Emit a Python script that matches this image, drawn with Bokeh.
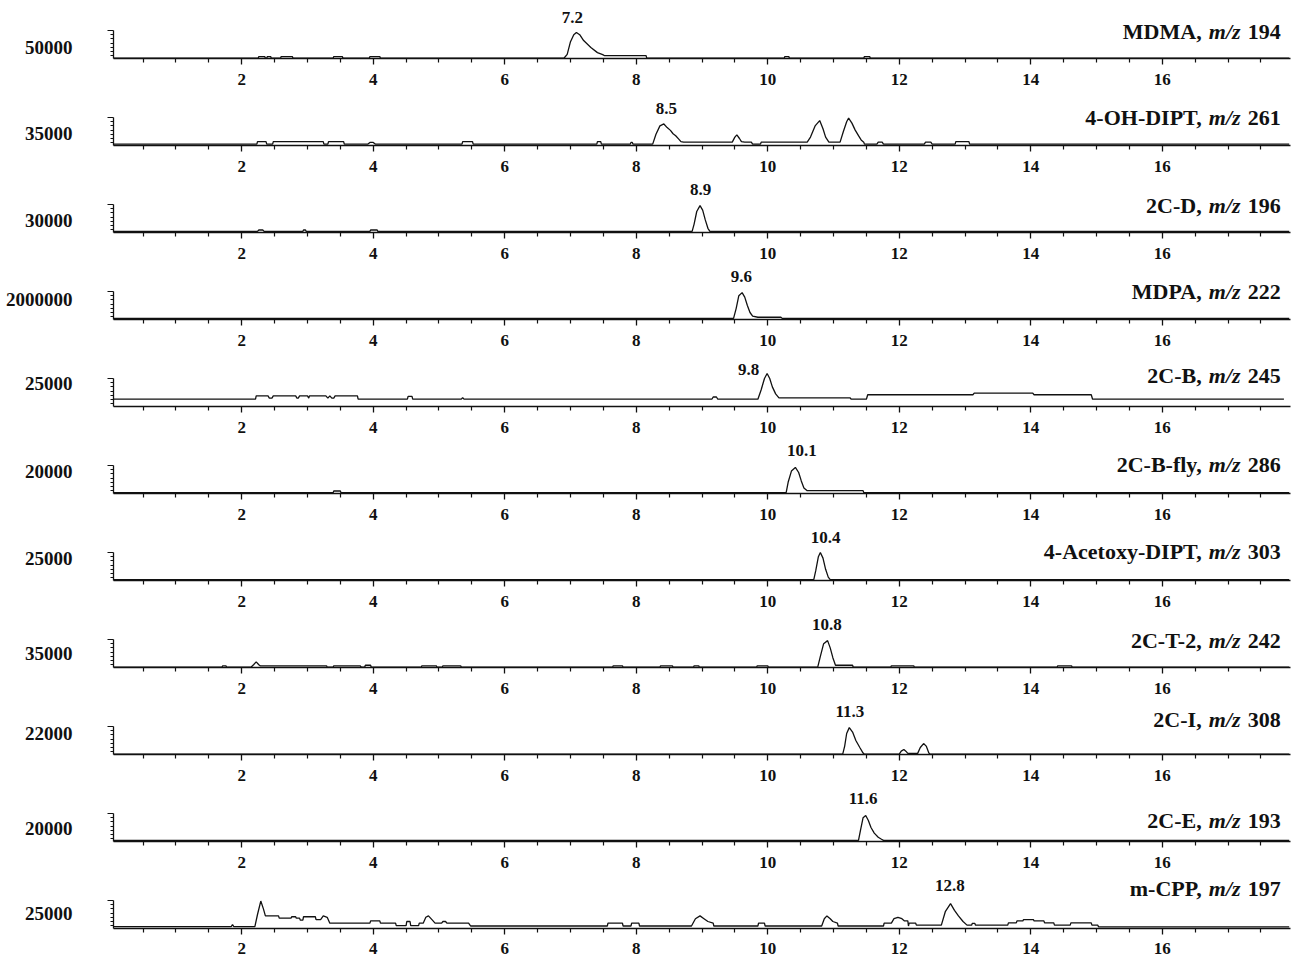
from bokeh.plotting import figure
from bokeh.models import Range1d, LinearAxis, FixedTicker
from bokeh.layouts import column
from bokeh.core.properties import value
from bokeh.embed import file_html
from bokeh.resources import INLINE

# ---------------- data ----------------
compounds = ["MDMA,", "4-OH-DIPT,", "2C-D,", "MDPA,", "2C-B,", "2C-B-fly,",
             "4-Acetoxy-DIPT,", "2C-T-2,", "2C-I,", "2C-E,", "m-CPP,"]
mz_values = ["194", "261", "196", "222", "245", "286", "303", "242", "308", "193", "197"]
scale_labels = ["50000", "35000", "30000", "2000000", "25000", "20000",
                "25000", "35000", "22000", "20000", "25000"]
peak_labels = ["7.2", "8.5", "8.9", "9.6", "9.8", "10.1", "10.4", "10.8", "11.3", "11.6", "12.8"]
peak_label_x = [7.03, 8.46, 8.98, 9.60, 9.71, 10.52, 10.88, 10.90, 11.25, 11.45, 12.77]

x_major = [2, 4, 6, 8, 10, 12, 14, 16]
x_minor = [0.5, 1, 1.5, 2.5, 3, 3.5, 4.5, 5, 5.5, 6.5, 7, 7.5, 8.5, 9, 9.5, 10.5, 11, 11.5,
           12.5, 13, 13.5, 14.5, 15, 15.5, 16.5, 17, 17.5]

# retention time (min) / relative intensity (100 = top of each small y axis)
mdma_t = [0.05, 2.25, 2.26, 2.35, 2.36, 2.38, 2.39, 2.44, 2.45, 2.59, 2.60, 2.77, 2.78, 3.39, 3.40,
          3.53, 3.54, 3.94, 3.95, 4.10, 4.11, 6.90, 6.95, 7.00, 7.05, 7.09, 7.14, 7.20, 7.31, 7.41,
          7.49, 7.52, 8.15, 8.16, 10.25, 10.26, 10.32, 10.33, 11.46, 11.47, 11.55, 11.56, 17.93]
mdma_i = [1, 1, 7, 7, 1, 1, 7, 7, 1, 1, 7, 7, 1, 1, 7,
          7, 1, 1, 7, 7, 1, 1, 15, 60, 85, 93, 85, 64, 39, 21,
          14, 10, 10, 1, 1, 7, 7, 1, 1, 7, 7, 1, 1]

ohdipt_t = [0.05, 2.23, 2.24, 2.37, 2.38, 2.47, 2.48, 3.24, 3.25, 3.31, 3.32, 3.55, 3.56, 3.92, 3.95,
            4.00, 4.03, 5.35, 5.36, 5.51, 5.52, 7.40, 7.41, 7.46, 7.47, 7.91, 7.92, 7.94, 7.95, 8.25,
            8.30, 8.36, 8.42, 8.47, 8.52, 8.56, 8.60, 8.65, 8.68, 8.72, 9.46, 9.50, 9.53, 9.57, 9.60,
            9.65, 9.75, 9.77, 9.89, 9.90, 10.60, 10.65, 10.72, 10.79, 10.84, 10.88, 10.93, 11.10, 11.15, 11.20,
            11.23, 11.28, 11.33, 11.38, 11.42, 11.46, 11.47, 11.66, 11.68, 11.74, 11.76, 12.38, 12.40, 12.48, 12.50,
            12.85, 12.86, 13.06, 13.07, 17.93]
ohdipt_i = [5, 5, 14, 14, 5, 5, 14, 14, 5, 5, 14, 14, 5, 5, 11,
            11, 5, 5, 14, 14, 5, 5, 14, 14, 5, 5, 11, 11, 5, 5,
            40, 70, 77, 64, 54, 42, 35, 22, 14, 12, 12, 30, 38, 25, 14,
            12, 12, 5, 5, 12, 12, 30, 70, 89, 60, 30, 12, 12, 50, 85,
            98, 80, 55, 35, 20, 12, 5, 5, 12, 12, 5, 5, 12, 12, 5,
            5, 14, 14, 5, 5]

c2d_t = [0.05, 2.24, 2.26, 2.32, 2.34, 2.93, 2.94, 2.97, 2.98, 3.95, 3.96, 4.06, 4.07, 8.85, 8.88,
         8.92, 8.97, 9.01, 9.05, 9.09, 9.12, 17.93]
c2d_i = [4, 4, 9, 9, 4, 4, 9, 9, 4, 4, 9, 9, 4, 4, 30,
         75, 96, 80, 45, 15, 4, 4]

mdpa_t = [0.05, 9.48, 9.52, 9.56, 9.61, 9.65, 9.69, 9.73, 9.77, 9.85, 10.20, 10.22, 17.93]
mdpa_i = [4, 4, 40, 85, 96, 80, 50, 25, 12, 8, 8, 4, 4]

c2b_t = [0.05, 2.21, 2.22, 2.40, 2.42, 2.46, 2.48, 2.82, 2.84, 2.86, 2.88, 3.00, 3.02, 3.03, 3.28,
         3.31, 3.34, 3.37, 3.40, 3.42, 3.76, 3.77, 4.52, 4.53, 4.59, 4.60, 5.34, 5.36, 5.38, 9.15,
         9.17, 9.22, 9.24, 9.85, 9.90, 9.95, 9.99, 10.03, 10.07, 10.12, 10.17, 11.25, 11.27, 11.50, 11.52,
         13.12, 13.14, 14.03, 14.05, 14.92, 14.94, 17.85]
c2b_i = [26, 26, 38, 38, 30, 30, 38, 38, 30, 30, 38, 38, 30, 38, 38,
         30, 38, 30, 30, 38, 38, 26, 26, 36, 36, 26, 26, 32, 26, 26,
         34, 34, 26, 26, 60, 100, 118, 100, 70, 45, 31, 31, 26, 26, 42,
         42, 48, 48, 42, 42, 26, 26]

c2bfly_t = [0.05, 3.39, 3.40, 3.50, 3.51, 10.28, 10.31, 10.36, 10.42, 10.47, 10.51, 10.55, 10.60, 11.45, 11.46,
            17.93]
c2bfly_i = [3, 3, 9, 9, 3, 3, 40, 80, 93, 75, 45, 20, 10, 10, 3,
            3]

acdipt_t = [0.05, 10.70, 10.73, 10.77, 10.80, 10.84, 10.88, 10.92, 10.95, 17.93]
acdipt_i = [3, 3, 35, 85, 100, 80, 40, 12, 3, 3]

c2t2_t = [0.05, 1.70, 1.71, 1.76, 1.77, 2.14, 2.18, 2.22, 2.26, 2.28, 3.29, 3.30, 3.39, 3.40, 3.80,
          3.82, 3.87, 3.88, 3.96, 3.97, 4.73, 4.74, 4.96, 4.97, 5.05, 5.06, 5.33, 5.34, 7.64, 7.65,
          7.79, 7.80, 8.36, 8.37, 8.55, 8.56, 8.87, 8.88, 8.95, 8.96, 9.83, 9.84, 10.00, 10.01, 10.76,
          10.80, 10.85, 10.91, 10.95, 10.99, 11.03, 11.29, 11.30, 11.87, 11.88, 12.22, 12.23, 14.40, 14.41, 14.62,
          14.63, 17.93]
c2t2_i = [1, 1, 6, 6, 1, 1, 10, 20, 10, 6, 6, 1, 1, 6, 6,
          1, 1, 8, 8, 1, 1, 6, 6, 1, 1, 6, 6, 1, 1, 6,
          6, 1, 1, 6, 6, 1, 1, 6, 6, 1, 1, 6, 6, 1, 1,
          40, 85, 96, 70, 35, 8, 8, 1, 1, 6, 6, 1, 1, 6, 6,
          1, 1]

c2i_t = [0.05, 11.14, 11.17, 11.20, 11.24, 11.29, 11.34, 11.40, 11.45, 11.47, 12.00, 12.03, 12.07, 12.10, 12.13,
         12.28, 12.32, 12.37, 12.41, 12.45, 12.47, 17.93]
c2i_i = [1, 1, 30, 75, 96, 80, 50, 25, 5, 1, 1, 12, 18, 12, 4,
         4, 25, 39, 30, 5, 1, 1]

c2e_t = [0.05, 11.38, 11.41, 11.45, 11.49, 11.53, 11.57, 11.62, 11.68, 11.73, 11.76, 17.93]
c2e_i = [4, 4, 40, 85, 93, 75, 50, 30, 15, 8, 4, 4]

mcpp_t = [0.05, 1.84, 1.86, 1.88, 2.20, 2.24, 2.29, 2.33, 2.36, 2.56, 2.57, 2.75, 2.76, 2.82, 2.83,
          2.88, 2.89, 2.93, 2.94, 3.12, 3.13, 3.20, 3.24, 3.30, 3.34, 3.95, 3.96, 4.10, 4.11, 4.34,
          4.35, 4.50, 4.51, 4.56, 4.57, 4.69, 4.70, 4.76, 4.80, 4.84, 4.90, 4.94, 5.04, 5.06, 5.10,
          5.12, 5.45, 5.48, 7.56, 7.57, 7.79, 7.80, 7.92, 7.93, 8.04, 8.05, 8.84, 8.90, 8.97, 9.03,
          9.09, 9.17, 9.18, 9.85, 9.86, 9.95, 9.96, 10.82, 10.86, 10.90, 10.95, 10.99, 11.06, 11.07, 11.76,
          11.77, 11.88, 11.92, 11.98, 12.04, 12.08, 12.13, 12.14, 12.15, 12.25, 12.26, 12.64, 12.70, 12.78,
          12.84, 12.90, 12.97, 13.03, 13.10, 13.11, 13.15, 13.16, 13.65, 13.66, 13.78, 13.79, 13.88, 13.89,
          14.04, 14.05, 14.20, 14.21, 14.35, 14.36, 14.60, 14.61, 14.92, 14.93, 15.02, 15.03, 17.93]
mcpp_i = [7, 7, 14, 7, 7, 50, 98, 70, 45, 45, 37, 37, 42, 42, 37,
          37, 30, 30, 42, 42, 32, 32, 45, 40, 19, 19, 27, 27, 19, 19,
          10, 10, 25, 25, 10, 10, 19, 19, 40, 45, 30, 19, 19, 25, 25,
          19, 19, 9, 9, 19, 19, 9, 9, 19, 19, 9, 9, 35, 45, 35,
          25, 19, 9, 9, 19, 19, 9, 9, 35, 45, 35, 25, 19, 9, 9,
          19, 19, 35, 40, 35, 27, 27, 9, 19, 19, 12, 12, 60, 89,
          65, 45, 25, 12, 12, 18, 18, 12, 12, 20, 20, 27, 27, 32,
          32, 27, 27, 20, 20, 12, 12, 20, 20, 12, 12, 6, 6]

traces_t = [mdma_t, ohdipt_t, c2d_t, mdpa_t, c2b_t, c2bfly_t, acdipt_t, c2t2_t, c2i_t, c2e_t, mcpp_t]
traces_i = [mdma_i, ohdipt_i, c2d_i, mdpa_i, c2b_i, c2bfly_i, acdipt_i, c2t2_i, c2i_i, c2e_i, mcpp_i]

# ---------------- layout / style (pixels) ----------------
FONT = "Liberation Serif"
INK = "#111111"
AX_PX = 28.0                     # height of each small intensity axis
fig_heights = [92] + [87] * 9 + [86]
frame_heights = [58] + [53] * 9 + [53]
tick_standoffs = [9] * 10 + [8]
peak_label_px = [41, 37, 43, 43, 37, 43, 43, 43, 43, 43, 43]
title_px = [27, 28, 27, 28, 31, 29, 29, 27, 35, 21, 40]
scale_label_px = [11, 12, 12, 20, 23, 22, 22, 14, 21, 13, 15]
TITLE_X = 17.80


def panel(k):
    h, fh = fig_heights[k], frame_heights[k]
    u = 100.0 / AX_PX            # data units per pixel
    p = figure(width=1294, height=h, output_backend="svg", toolbar_location=None,
               x_range=Range1d(0.05, 17.95), y_range=Range1d(0, fh * u),
               y_axis_location=None,
               min_border_left=113, min_border_right=4, min_border_top=0,
               min_border_bottom=h - fh)
    p.outline_line_color = None
    p.grid.visible = False
    p.background_fill_color = "white"
    p.border_fill_color = "white"

    xa = p.xaxis[0]
    xa.ticker = FixedTicker(ticks=x_major, minor_ticks=x_minor)
    xa.axis_line_width = 1.7
    xa.axis_line_color = INK
    xa.major_tick_line_color = INK
    xa.minor_tick_line_color = INK
    xa.major_tick_line_width = 1.3
    xa.minor_tick_line_width = 1.2
    xa.major_tick_out = 6
    xa.major_tick_in = 0
    xa.minor_tick_out = 4
    xa.minor_tick_in = 0
    xa.major_label_standoff = tick_standoffs[k]
    xa.major_label_text_font = FONT
    xa.major_label_text_font_style = "bold"
    xa.major_label_text_font_size = "17px"
    xa.major_label_text_color = INK

    # small intensity axis
    ya = LinearAxis(ticker=FixedTicker(ticks=[100], minor_ticks=[10, 25, 40, 55, 70, 85]),
                    bounds=(0, 100), major_label_overrides={100: ""})
    ya.axis_line_color = INK
    ya.axis_line_width = 1.3
    ya.major_tick_out = 6
    ya.major_tick_in = 0
    ya.minor_tick_out = 3
    ya.minor_tick_in = 0
    ya.major_tick_line_color = INK
    ya.minor_tick_line_color = INK
    ya.major_label_standoff = 0
    p.add_layout(ya, "left")

    # full-scale intensity label
    sv = round(scale_label_px[k] * u, 3)
    yl = LinearAxis(ticker=FixedTicker(ticks=[sv], minor_ticks=[]),
                    major_label_overrides={sv: scale_labels[k]})
    yl.axis_line_color = None
    yl.major_tick_line_color = None
    yl.minor_tick_line_color = None
    yl.major_tick_out = 0
    yl.major_tick_in = 0
    yl.minor_tick_out = 0
    yl.major_label_standoff = 35
    yl.major_label_text_font = FONT
    yl.major_label_text_font_style = "bold"
    yl.major_label_text_font_size = "19px"
    yl.major_label_text_color = INK
    p.add_layout(yl, "left")

    p.line(traces_t[k], traces_i[k], line_color=INK, line_width=1.3)

    # peak retention label
    p.text(x=[peak_label_x[k]], y=[peak_label_px[k] * u], text=[peak_labels[k]],
           text_align="center", text_baseline="middle", text_font=value(FONT),
           text_font_style="bold", text_font_size="17px", text_color=INK)

    # right-hand title: "<name>, m/z <mass>"
    ty = title_px[k] * u
    common = dict(text_baseline="middle", text_align="right", text_font=value(FONT),
                  text_font_size="22px", text_color=INK)
    p.text(x=[TITLE_X], y=[ty], text=[mz_values[k]], text_font_style="bold", **common)
    p.text(x=[TITLE_X], y=[ty], text=["m/z"], x_offset=-40, text_font_style="bold italic", **common)
    p.text(x=[TITLE_X], y=[ty], text=[compounds[k]], x_offset=-79, text_font_style="bold", **common)
    return p


figs = [panel(k) for k in range(len(compounds))]
layout = column(*figs, spacing=0)

open("out.html", "w").write(file_html(layout, INLINE))
